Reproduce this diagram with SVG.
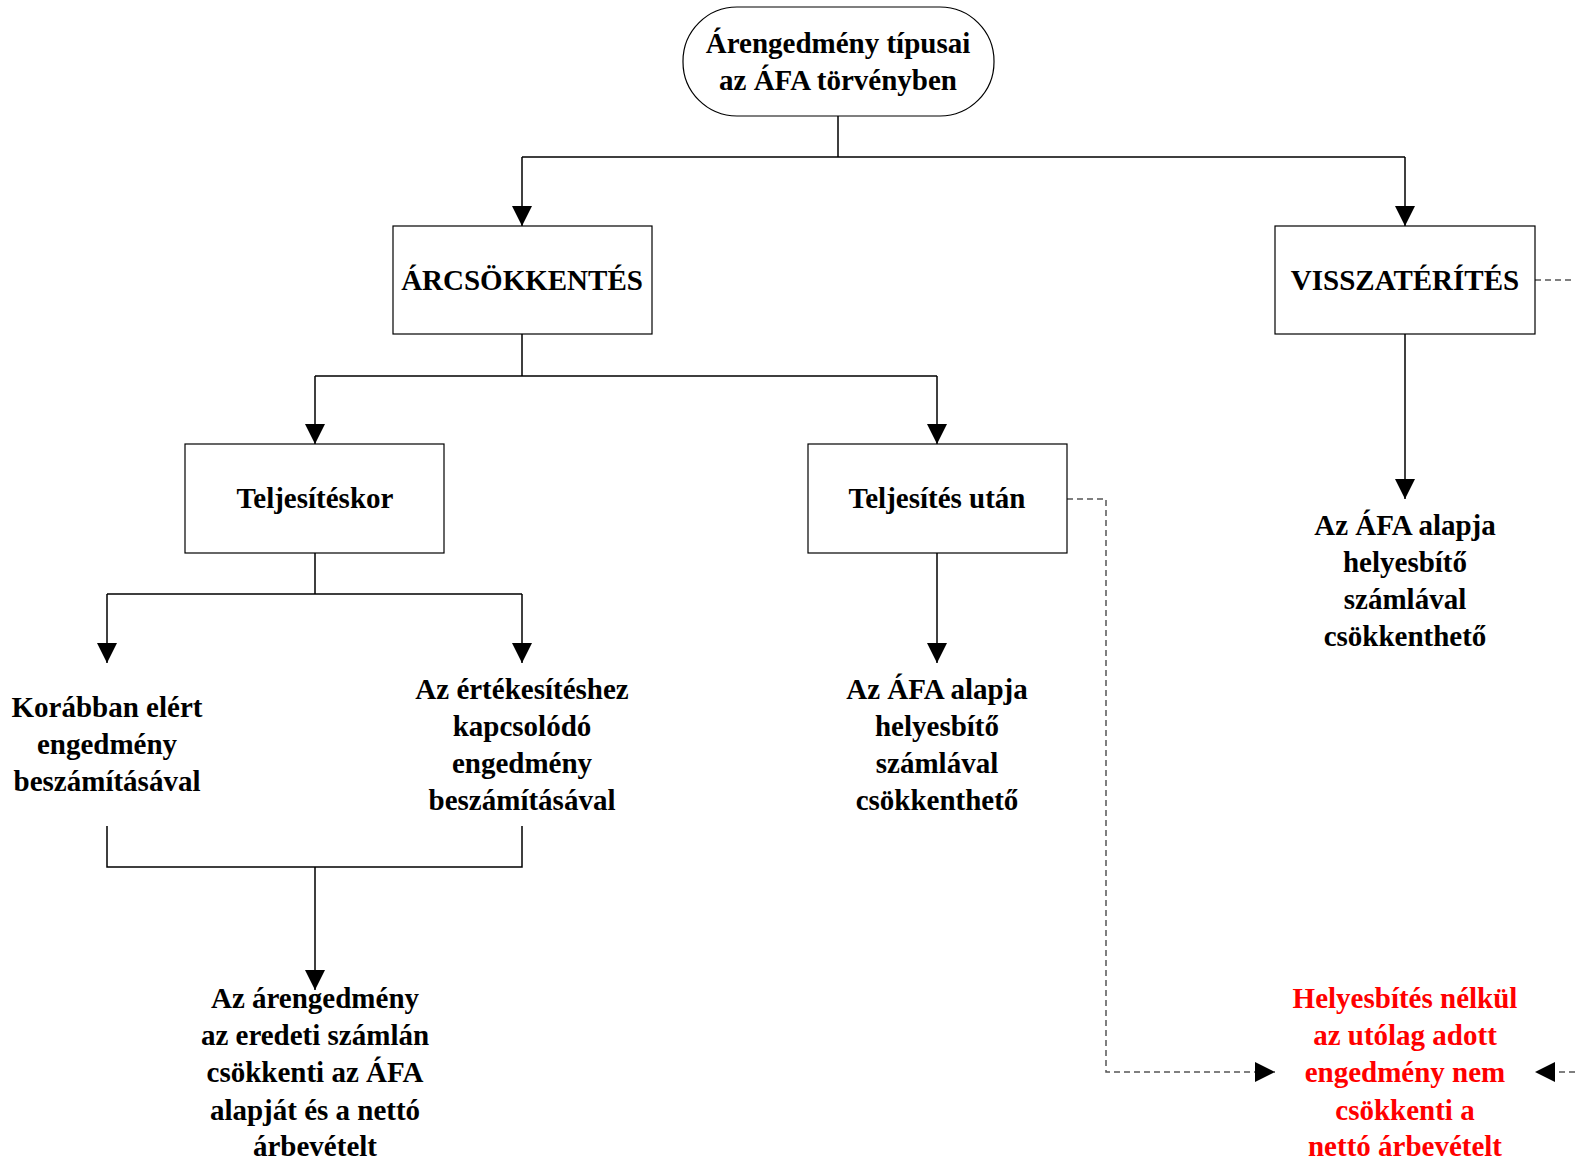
<svg xmlns="http://www.w3.org/2000/svg" width="1575" height="1164" viewBox="0 0 1575 1164">
<defs>
<marker id="ah" markerWidth="20" markerHeight="20" refX="20" refY="10" orient="auto" markerUnits="userSpaceOnUse"><path d="M0,0 L20,10 L0,20 Z" fill="#000"/></marker>
<style>
.t{font-family:"Liberation Serif","Times New Roman",serif;font-weight:bold;font-size:29px;fill:#000;text-anchor:middle}
.r{fill:#ff0000}
.box{fill:#fff;stroke:#000;stroke-width:1.2}
.c{fill:none;stroke:#000;stroke-width:1.5}
.d{fill:none;stroke:#555;stroke-width:1.5;stroke-dasharray:6 4}
</style>
</defs>
<rect width="1575" height="1164" fill="#fff"/>
<g id="connectors">
<path class="c" d="M838,116 V157 M522,157 H1405"/>
<path class="c" d="M522,157 V226" marker-end="url(#ah)"/>
<path class="c" d="M1405,157 V226" marker-end="url(#ah)"/>
<path class="c" d="M522,334 V376 M315,376 H937"/>
<path class="c" d="M315,376 V444" marker-end="url(#ah)"/>
<path class="c" d="M937,376 V444" marker-end="url(#ah)"/>
<path class="c" d="M315,553 V594 M107,594 H522"/>
<path class="c" d="M107,594 V663" marker-end="url(#ah)"/>
<path class="c" d="M522,594 V663" marker-end="url(#ah)"/>
<path class="c" d="M937,553 V663" marker-end="url(#ah)"/>
<path class="c" d="M1405,334 V499" marker-end="url(#ah)"/>
<path class="c" d="M107,826 V867 H522 V826 M315,867 V990" marker-end="url(#ah)"/>
<path class="d" d="M1067,499 H1106 V1072 H1275" marker-end="url(#ah)"/>
<path class="d" d="M1535,280 H1575"/>
<path class="d" d="M1575,1072 H1535" marker-end="url(#ah)"/>
</g>
<g id="root">
<rect class="box" x="683" y="7" width="311" height="109" rx="54" ry="54"/>
<text class="t" x="838" y="53">Árengedmény típusai</text>
<text class="t" x="838" y="90">az ÁFA törvényben</text>
</g>
<g id="arcsokkentes">
<rect class="box" x="393" y="226" width="259" height="108"/>
<text class="t" x="522" y="290">ÁRCSÖKKENTÉS</text>
</g>
<g id="visszateritis">
<rect class="box" x="1275" y="226" width="260" height="108"/>
<text class="t" x="1405" y="290">VISSZATÉRÍTÉS</text>
</g>
<g id="teljesiteskor">
<rect class="box" x="185" y="444" width="259" height="109"/>
<text class="t" x="315" y="508">Teljesítéskor</text>
</g>
<g id="teljesites-utan">
<rect class="box" x="808" y="444" width="259" height="109"/>
<text class="t" x="937" y="508">Teljesítés után</text>
</g>
<g id="korabban">
<text class="t" x="107" y="717">Korábban elért</text>
<text class="t" x="107" y="754">engedmény</text>
<text class="t" x="107" y="791">beszámításával</text>
</g>
<g id="ertekesiteshez">
<text class="t" x="522" y="699">Az értékesítéshez</text>
<text class="t" x="522" y="736">kapcsolódó</text>
<text class="t" x="522" y="773">engedmény</text>
<text class="t" x="522" y="810">beszámításával</text>
</g>
<g id="helyesbito1">
<text class="t" x="937" y="699">Az ÁFA alapja</text>
<text class="t" x="937" y="736">helyesbítő</text>
<text class="t" x="937" y="773">számlával</text>
<text class="t" x="937" y="810">csökkenthető</text>
</g>
<g id="helyesbito2">
<text class="t" x="1405" y="535">Az ÁFA alapja</text>
<text class="t" x="1405" y="572">helyesbítő</text>
<text class="t" x="1405" y="609">számlával</text>
<text class="t" x="1405" y="646">csökkenthető</text>
</g>
<g id="arengedmeny">
<text class="t" x="315" y="1008">Az árengedmény</text>
<text class="t" x="315" y="1045">az eredeti számlán</text>
<text class="t" x="315" y="1082">csökkenti az ÁFA</text>
<text class="t" x="315" y="1120">alapját és a nettó</text>
<text class="t" x="315" y="1156">árbevételt</text>
</g>
<g id="helyesbites-nelkul">
<text class="t r" x="1405" y="1008">Helyesbítés nélkül</text>
<text class="t r" x="1405" y="1045">az utólag adott</text>
<text class="t r" x="1405" y="1082">engedmény nem</text>
<text class="t r" x="1405" y="1120">csökkenti a</text>
<text class="t r" x="1405" y="1156">nettó árbevételt</text>
</g>
</svg>
